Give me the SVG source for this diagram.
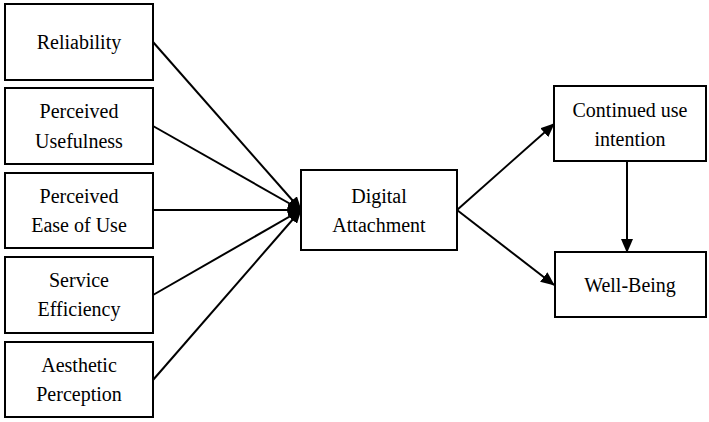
<svg xmlns="http://www.w3.org/2000/svg" width="709" height="422" viewBox="0 0 709 422">
<style>
.box{fill:#fff;stroke:#000;stroke-width:2}
text{font-family:'Liberation Serif',serif;font-size:20px;fill:#000;text-anchor:middle}
.c{stroke:#000;stroke-width:2;fill:none}
</style>
<defs>
<marker id="ah" markerUnits="userSpaceOnUse" markerWidth="14" markerHeight="12" refX="13" refY="6" orient="auto">
<path d="M0,0 L14,6 L0,12 z" fill="#000"/>
</marker>
</defs>
<rect width="709" height="422" fill="#fff"/>
<g id="connectors">
<line class="c" x1="153" y1="42" x2="301" y2="210" marker-end="url(#ah)"/>
<line class="c" x1="153" y1="126" x2="301" y2="210" marker-end="url(#ah)"/>
<line class="c" x1="153" y1="210" x2="301" y2="210" marker-end="url(#ah)"/>
<line class="c" x1="153" y1="295" x2="301" y2="210" marker-end="url(#ah)"/>
<line class="c" x1="153" y1="380" x2="301" y2="210" marker-end="url(#ah)"/>
<line class="c" x1="457" y1="210" x2="554" y2="124" marker-end="url(#ah)"/>
<line class="c" x1="457" y1="210" x2="554" y2="285" marker-end="url(#ah)"/>
<line class="c" x1="627" y1="161" x2="627" y2="252" marker-end="url(#ah)"/>
</g>
<g id="reliability"><rect class="box" x="5" y="4" width="148" height="76"/><text x="79" y="49">Reliability</text></g>
<g id="usefulness"><rect class="box" x="5" y="88" width="148" height="76"/><text x="79" y="118">Perceived</text><text x="79" y="148">Usefulness</text></g>
<g id="ease"><rect class="box" x="5" y="173" width="148" height="75"/><text x="79" y="203">Perceived</text><text x="79" y="232">Ease of Use</text></g>
<g id="efficiency"><rect class="box" x="5" y="257" width="148" height="76"/><text x="79" y="287">Service</text><text x="79" y="316">Efficiency</text></g>
<g id="aesthetic"><rect class="box" x="5" y="342" width="148" height="75"/><text x="79" y="372">Aesthetic</text><text x="79" y="401">Perception</text></g>
<g id="digital"><rect class="box" x="301" y="170" width="156" height="80"/><text x="379" y="203">Digital</text><text x="379" y="232">Attachment</text></g>
<g id="continued"><rect class="box" x="554" y="86" width="152" height="75"/><text x="630" y="117">Continued use</text><text x="630" y="146">intention</text></g>
<g id="wellbeing"><rect class="box" x="555" y="252" width="151" height="65"/><text x="630" y="292">Well-Being</text></g>
</svg>
